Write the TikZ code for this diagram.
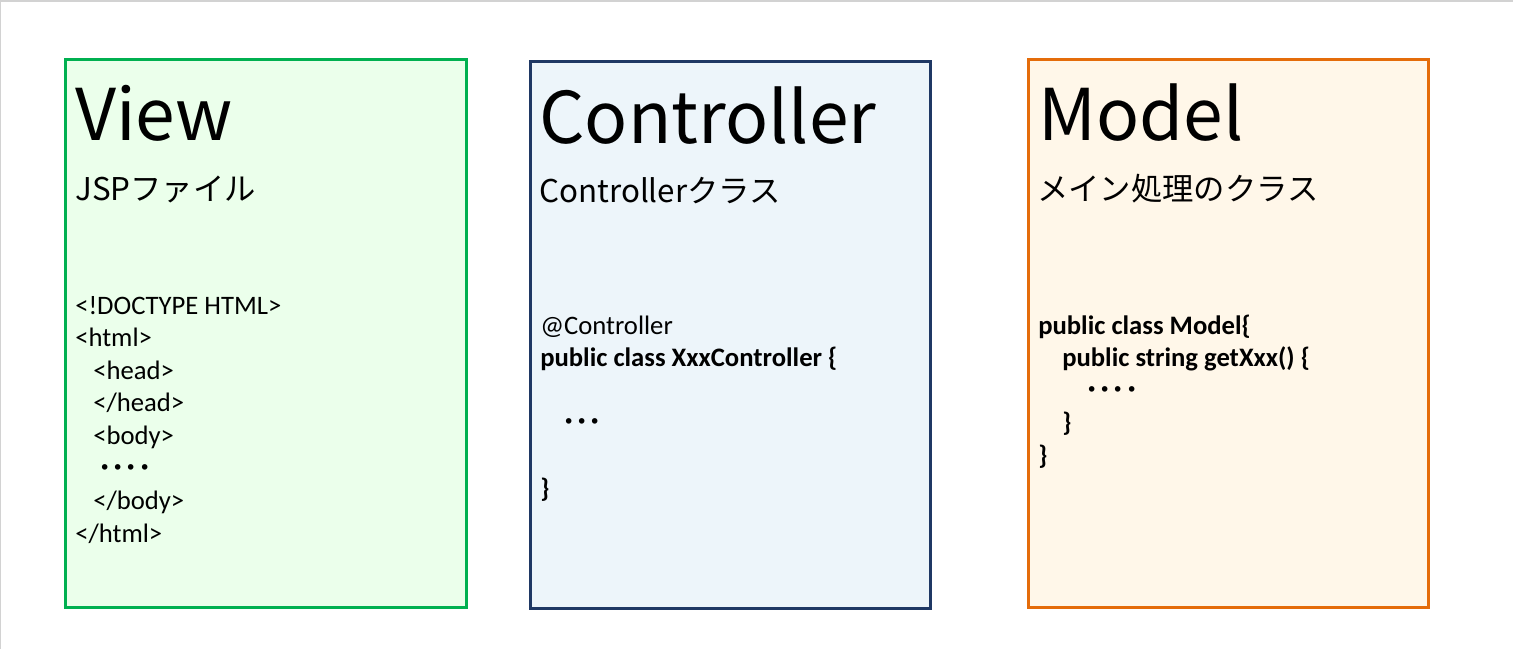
\documentclass[tikz,border=0pt]{standalone}
\usepackage{fontspec}
\setmainfont{Carlito}
\newfontfamily\jpfont{Noto Sans CJK JP}
\newdimen\px \px=0.75pt
\definecolor{vgreen}{RGB}{0,176,80}
\definecolor{vgreenfill}{RGB}{235,255,235}
\definecolor{cblue}{RGB}{31,56,100}
\definecolor{cbluefill}{RGB}{237,245,250}
\definecolor{morange}{RGB}{228,108,10}
\definecolor{morangefill}{RGB}{255,247,233}
\definecolor{edgegray}{RGB}{210,210,210}
\tikzset{
  panel/.style={draw, line width=3\px, inner sep=0pt, outer sep=0pt, rectangle},
  titletext/.style={anchor=base west, inner sep=0pt, font=\jpfont\fontsize{53.5}{60}\selectfont},
  subtext/.style={anchor=base west, inner sep=0pt, font=\jpfont\fontsize{23.5}{28}\selectfont},
  codetext/.style={anchor=base west, inner sep=0pt, font=\fontsize{20}{24.5}\selectfont}
}
\newcommand{\ind}[1]{\hskip#1\px}
\newcommand{\codedots}[1]{{\jpfont\bfseries #1}}
\begin{document}
\begin{tikzpicture}[x=0.75pt,y=-0.75pt]
\useasboundingbox (0,0) rectangle (1513,649);
\draw[edgegray, line width=2\px] (0,649) -- (0,1) -- (1513,1);
% panels
\node[panel, draw=vgreen, fill=vgreenfill, minimum width=401\px, minimum height=547\px] (viewbox) at (265.5,333.5) {};
\node[panel, draw=cblue, fill=cbluefill, minimum width=400\px, minimum height=546\px] (ctrlbox) at (730,335) {};
\node[panel, draw=morange, fill=morangefill, minimum width=400\px, minimum height=547\px] (modelbox) at (1228,333.5) {};
% titles
\node[titletext] (viewtitle) at (75,141) {View};
\node[titletext] (ctrltitle) at (539,144) {Controller};
\node[titletext] (modeltitle) at (1038,141) {Model};
% subtitles
\node[subtext] (viewsub) at (75,200) {JSPファイル};
\node[subtext] (ctrlsub) at (539,202) {Controllerクラス};
\node[subtext] (modelsub) at (1037,200) {メイン処理のクラス};
% code
\node[codetext] (viewcode) at (75,314) {\vtop{\baselineskip=32.6\px
  \hbox{<!DOCTYPE HTML>}
  \hbox{<html>}
  \hbox{\ind{18}<head>}
  \hbox{\ind{18}</head>}
  \hbox{\ind{18}<body>}
  \hbox{\ind{23}\codedots{････}}
  \hbox{\ind{18}</body>}
  \hbox{</html>}}};
\node[codetext] (ctrlcode) at (540,334) {\vtop{\baselineskip=32.6\px
  \hbox{@Controller}
  \hbox{\textbf{public class XxxController \{}}
  \hbox{}
  \hbox{\ind{22}\codedots{･･･}}
  \hbox{}
  \hbox{\textbf{\}}}}};
\node[codetext] (modelcode) at (1038,334) {\vtop{\baselineskip=32.6\px
  \hbox{\textbf{public class Model\{}}
  \hbox{\ind{24}\textbf{public string getXxx() \{}}
  \hbox{\ind{47}\codedots{････}}
  \hbox{\ind{24}\textbf{\}}}
  \hbox{\textbf{\}}}}};
\end{tikzpicture}
\end{document}
